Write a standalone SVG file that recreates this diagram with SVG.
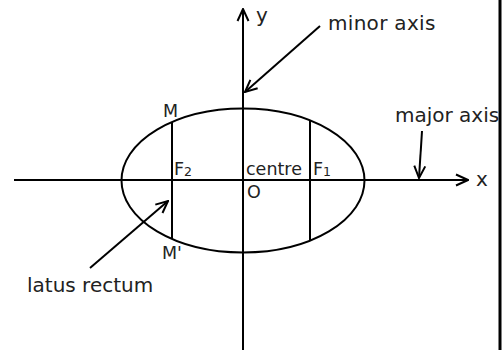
<svg xmlns="http://www.w3.org/2000/svg" width="504" height="350" viewBox="0 0 504 350">
<defs>
<style>
.ln{stroke:#000;stroke-width:2;fill:none}
.ar{stroke:#000;stroke-width:2;fill:none;marker-end:url(#chev)}
.t{font-family:"DejaVu Sans",Verdana,sans-serif;fill:#222}
.lg{font-size:20px}
.sm{font-size:17.5px}
</style>
<marker id="chev" viewBox="-14 -7 15 14" markerWidth="15" markerHeight="14" refX="0" refY="0" orient="auto" markerUnits="userSpaceOnUse">
<path d="M-12,-5.5 L0,0 L-12,5.5" stroke="#000" stroke-width="2" fill="none"/>
</marker>
</defs>
<rect width="504" height="350" fill="#fff"/>
<rect x="498.5" y="0" width="3" height="350" fill="#000"/>
<g id="connectors">
<line id="x-axis" class="ar" x1="14" y1="180" x2="468" y2="180"/>
<line id="y-axis" class="ar" x1="243" y1="350" x2="243" y2="9"/>
<line id="minor-arrow" class="ar" x1="320" y1="26" x2="245" y2="92"/>
<line id="major-arrow" class="ar" x1="422" y1="131" x2="419" y2="178"/>
<line id="latus-arrow" class="ar" x1="90" y1="268" x2="168" y2="201"/>
</g>
<g id="ellipse"><ellipse class="ln" cx="243" cy="180.5" rx="121.5" ry="72"/></g>
<g id="latus-left"><line class="ln" x1="172" y1="122" x2="172" y2="239"/></g>
<g id="latus-right"><line class="ln" x1="310" y1="120" x2="310" y2="240"/></g>
<g id="labels">
<text class="t lg" x="256" y="22">y</text>
<text class="t lg" x="328" y="30" letter-spacing="0.3">minor axis</text>
<text class="t lg" x="395" y="122">major axis</text>
<text class="t lg" x="476" y="186">x</text>
<text class="t sm" x="163" y="117">M</text>
<text class="t sm" x="162" y="259">M'</text>
<text class="t sm" x="174" y="175">F<tspan font-size="12.5" dy="1">2</tspan></text>
<text class="t sm" x="246" y="175">centre</text>
<text class="t sm" x="313" y="175">F<tspan font-size="12.5" dy="1">1</tspan></text>
<text class="t sm" x="247" y="198">O</text>
<text class="t lg" x="27" y="292">latus rectum</text>
</g>
</svg>
